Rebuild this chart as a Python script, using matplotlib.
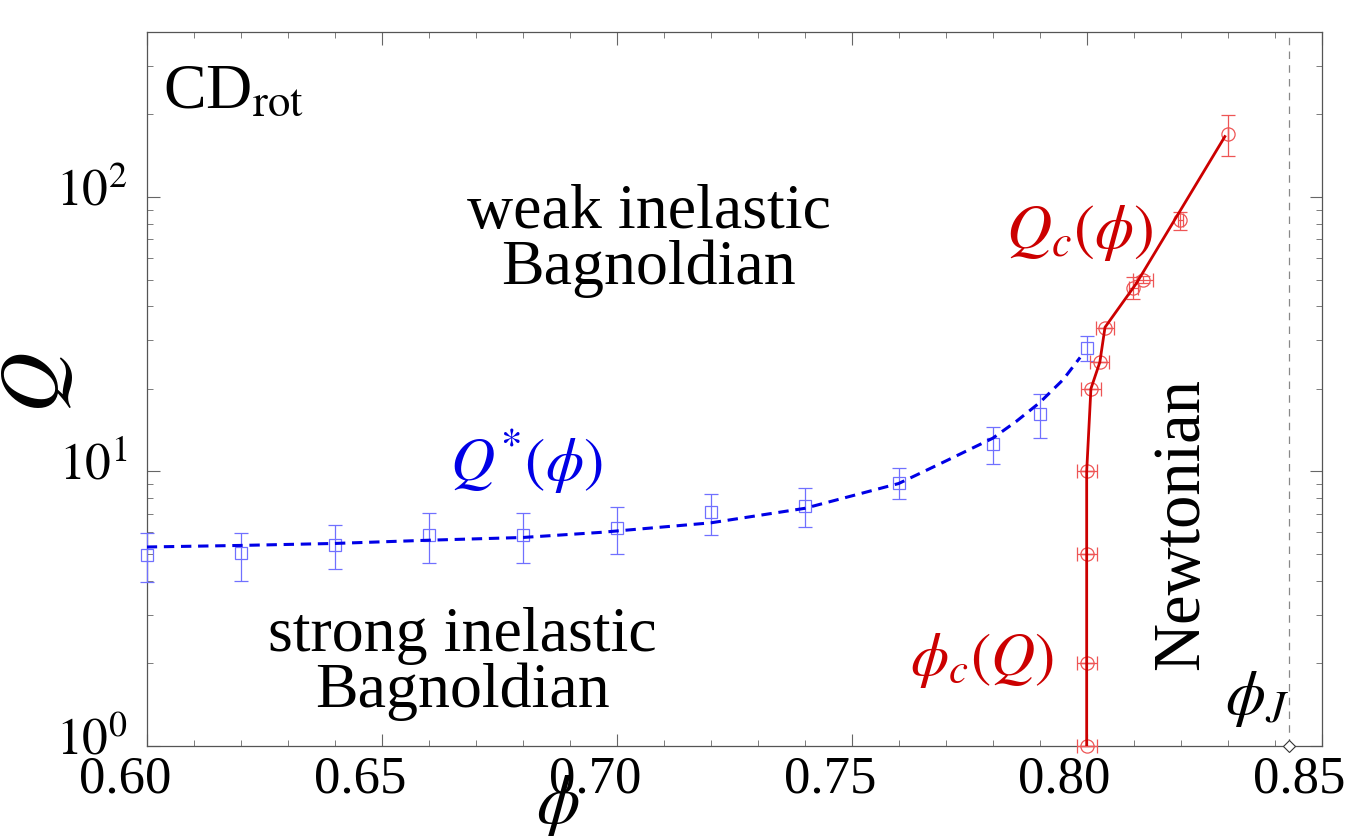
import matplotlib
matplotlib.use("Agg")
import matplotlib.pyplot as plt
import matplotlib.transforms as mtransforms
from matplotlib.ticker import LogLocator, MultipleLocator, NullFormatter

# data
# Q*(phi): blue squares with vertical error bars
qs_phi = [0.600, 0.620, 0.640, 0.660, 0.680, 0.700, 0.720, 0.740, 0.760, 0.780, 0.790, 0.800]
qs_Q = [4.95, 5.02, 5.38, 5.86, 5.86, 6.19, 7.08, 7.47, 9.08, 12.6, 16.2, 28.2]
qs_hi = [5.95, 5.97, 6.40, 7.03, 7.03, 7.39, 8.28, 8.71, 10.3, 14.5, 19.2, 31.2]
qs_lo = [3.95, 3.98, 4.39, 4.64, 4.64, 4.99, 5.86, 6.26, 7.90, 10.6, 13.2, 25.2]

# dashed fit curve for Q*(phi)
fit_phi = [0.600, 0.620, 0.640, 0.660, 0.680, 0.6965, 0.720, 0.740, 0.760, 0.770, 0.780, 0.785, 0.790, 0.795, 0.7986]
fit_Q = [5.30, 5.37, 5.46, 5.61, 5.74, 5.99, 6.49, 7.33, 9.03, 10.9, 13.2, 15.2, 17.8, 21.6, 26.0]

# phi_c(Q): red circles with error bars
pc_phi = [0.800, 0.800, 0.800, 0.800, 0.8009, 0.8028, 0.8039, 0.8099, 0.8120, 0.8199, 0.8300]
pc_Q = [1, 2, 5, 10, 20, 25, 33.3, 46.4, 50, 82.7, 170]
pc_xerr = [0.0021, 0.0021, 0.0021, 0.0021, 0.0021, 0.002, 0.0019, 0.001, 0.0022, 0.0005, 0.0]
pc_Qlo = [0, 0, 0, 0, 0, 0, 0, 4.1, 1.5, 6.7, 29]
pc_Qhi = [0, 0, 0, 0, 0, 0, 0, 4.6, 1.5, 5.3, 29.5]

# red line through phi_c
line_phi = [0.800, 0.800, 0.8009, 0.8028, 0.8039, 0.8106, 0.8294]
line_Q = [1, 10, 20, 25, 33.5, 48.5, 166]

phi_J = 0.843

xticks = [0.60, 0.65, 0.70, 0.75, 0.80, 0.85]
xticklabels = ["0.60", "0.65", "0.70", "0.75", "0.80", "0.85"]
yticks = [1, 10, 100]
yticklabels = [r"$10^{0}$", r"$10^{1}$", r"$10^{2}$"]

plt.rcParams["font.family"] = ["Liberation Serif", "DejaVu Serif"]
plt.rcParams["mathtext.fontset"] = "stix"

fig = plt.figure(figsize=(13.55, 8.36), dpi=100)
ax = fig.add_axes([0.1083, 0.108, 0.8671, 0.854])

red = "#CC0000"
red_light = "#EE5555"
blue = "#0000E6"
blue_light = "#7070FF"

# phi_J line and marker
ax.axvline(phi_J, color="#888888", lw=0.9, dashes=(6, 5))
ax.plot([phi_J], [1], marker="D", ms=6, mfc="white", mec="#333333", mew=0.8, clip_on=False, zorder=6)

# Q* data and fit
ax.errorbar(qs_phi, qs_Q, yerr=[[q - l for q, l in zip(qs_Q, qs_lo)], [h - q for q, h in zip(qs_Q, qs_hi)]],
            fmt="s", ms=9, mfc="none", mec=blue_light, ecolor=blue_light, elinewidth=0.9,
            capsize=5, capthick=0.9, mew=0.9, clip_on=False, zorder=3)
ax.plot(fit_phi, fit_Q, color=blue, lw=2.2, dashes=(3.4, 2.2), zorder=4)

# phi_c data and line
ax.errorbar(pc_phi, pc_Q, xerr=pc_xerr, yerr=[pc_Qlo, pc_Qhi],
            fmt="o", ms=9.5, mfc="none", mec=red_light, ecolor=red_light, elinewidth=0.9,
            capsize=5, capthick=0.9, mew=0.9, clip_on=False, zorder=3)
ax.plot(line_phi, line_Q, color=red, lw=2.0, zorder=4)

ax.set_xscale("linear")
ax.set_yscale("log")
ax.set_xlim(0.60, 0.85)
ax.set_ylim(1, 400)

ax.set_xticks(xticks)
ax.set_xticklabels(xticklabels)
ax.xaxis.set_minor_locator(MultipleLocator(0.01))
ax.set_yticks(yticks)
ax.set_yticklabels(yticklabels)
ax.yaxis.set_minor_locator(LogLocator(base=10, subs=range(2, 10)))
ax.yaxis.set_minor_formatter(NullFormatter())

ax.tick_params(which="both", direction="in", top=True, right=True, colors="#666666",
               labelcolor="black")
ax.tick_params(axis="x", which="major", length=9, width=0.8, pad=7, labelsize=38)
ax.tick_params(axis="y", which="major", length=9, width=0.8, pad=14, labelsize=37)
ax.tick_params(which="minor", length=4.5, width=0.6)
for s in ax.spines.values():
    s.set_color("#555555")
    s.set_linewidth(0.9)

# tick labels sit a little off their ticks in the original
xshift = mtransforms.ScaledTranslation(-0.22, 0, fig.dpi_scale_trans)
for lab in ax.get_xticklabels():
    lab.set_transform(lab.get_transform() + xshift)
yshift = mtransforms.ScaledTranslation(0, 0.10, fig.dpi_scale_trans)
for lab in ax.get_yticklabels():
    lab.set_transform(lab.get_transform() + yshift)

ax.set_xlabel(r"$\phi$", fontsize=50)
ax.set_ylabel(r"$Q$", fontsize=60)
ax.xaxis.label.set_va("center")
ax.yaxis.label.set_va("center")
ax.xaxis.set_label_coords(0.350, -0.084)
ax.yaxis.set_label_coords(-0.092, 0.508)

# annotations
ax.text(0.014, 0.955, r"CD$_{\mathrm{rot}}$", transform=ax.transAxes, fontsize=46, va="top", ha="left")
ax.text(0.427, 0.707, "weak inelastic\nBagnoldian", transform=ax.transAxes, fontsize=46,
        ha="center", va="center", linespacing=0.95)
ax.text(0.269, 0.114, "strong inelastic\nBagnoldian", transform=ax.transAxes, fontsize=46,
        ha="center", va="center", linespacing=0.95)
ax.text(0.323, 0.398, r"$Q^{*}(\phi)$", transform=ax.transAxes, fontsize=44, color=blue,
        ha="center", va="center")
ax.text(0.794, 0.718, r"$Q_c(\phi)$", transform=ax.transAxes, fontsize=45, color=red,
        ha="center", va="center")
ax.text(0.711, 0.119, r"$\phi_c(Q)$", transform=ax.transAxes, fontsize=44, color=red,
        ha="center", va="center")
ax.text(0.881, 0.310, "Newtonian", transform=ax.transAxes, fontsize=48, rotation=90,
        ha="center", va="center")
ax.text(0.945, 0.066, r"$\phi_J$", transform=ax.transAxes, fontsize=46, ha="center", va="center")

fig.savefig("out.png", dpi=100)
